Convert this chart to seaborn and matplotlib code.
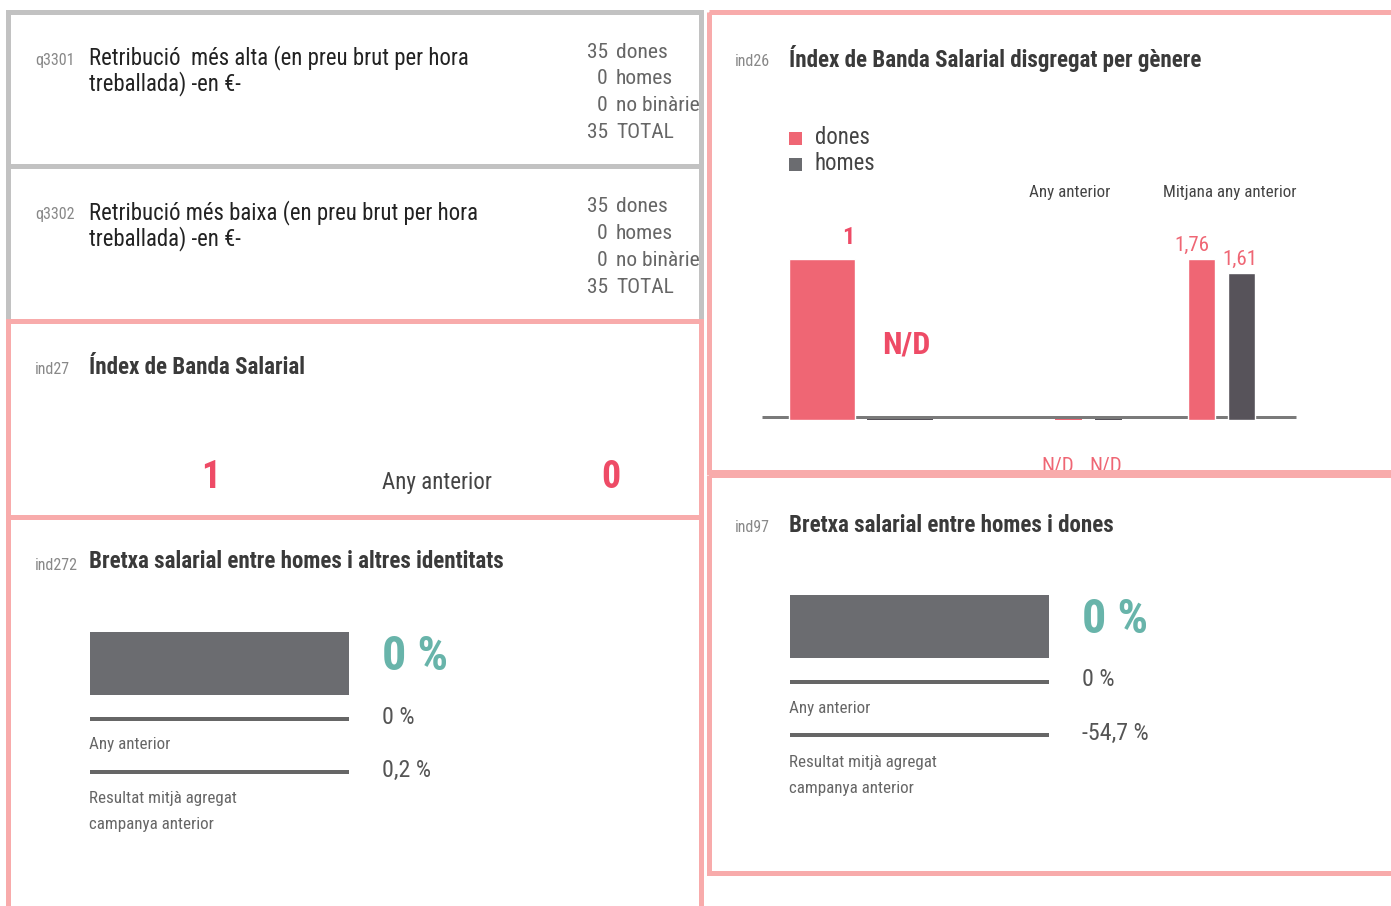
import numpy as np
import pandas as pd
import seaborn as sns
import matplotlib
matplotlib.use('Agg')
from matplotlib import pyplot as plt
from matplotlib import font_manager
from matplotlib.patches import Rectangle

# ---------------- data ----------------
q_codes = ['q3301', 'q3302']
q_titles = [['Retribució  més alta (en preu brut per hora', 'treballada) -en €-'],
            ['Retribució més baixa (en preu brut per hora', 'treballada) -en €-']]
q_labels = ['dones', 'homes', 'no binàries', 'TOTAL']
q_counts = [[35, 0, 0, 35], [35, 0, 0, 35]]

ind27_value = 1
ind27_prev = 0

ind26_groups = ['Actual', 'Any anterior', 'Mitjana any anterior']
ind26_dones = [1, np.nan, 1.76]
ind26_homes = [np.nan, np.nan, 1.61]

gap_codes = ['ind272', 'ind97']
gap_titles = ['Bretxa salarial entre homes i altres identitats', 'Bretxa salarial entre homes i dones']
gap_value = [0, 0]
gap_prev = [0, 0]
gap_avg = [0.2, -54.7]

# ---------------- style ----------------
W, H = 1391, 906
RED = '#ef6674'
RED_TXT = '#ee4b66'
DARK = '#57535a'
BAR_GRAY = '#6b6c70'
TEAL = '#68b4aa'
PINK = '#f8abab'
GRAY_BORDER = '#c2c2c2'

sns.set_theme(style='white')
available = {f.name for f in font_manager.fontManager.ttflist}
family = 'DejaVu Sans'
for cand in ['Roboto Condensed', 'Liberation Sans Narrow', 'DejaVu Sans Condensed', 'Roboto']:
    if cand in available:
        family = cand
        break
plt.rcParams['font.family'] = [family, 'DejaVu Sans']


def px(v):
    return v * 0.72


def fmt(v):
    return ('%g' % v).replace('.', ',')


fig = plt.figure(figsize=(W / 100, H / 100), dpi=100)
ax = fig.add_axes([0, 0, 1, 1])
ax.set_xlim(0, W)
ax.set_ylim(H, 0)
ax.axis('off')


def panel(x0, y0, x1, y1, color, lw=5):
    ax.add_patch(Rectangle((x0, y0), x1 - x0, y1 - y0, fill=False, edgecolor=color,
                           lw=px(lw), zorder=5, clip_on=False))


def txt(x, y, s, size, color='#333333', weight='normal', ha='left', va='center', **kw):
    return ax.text(x, y, s, fontsize=px(size), color=color, fontweight=weight, ha=ha, va=va, **kw)


# panels
panel(7.5, 11.5, 700.5, 165.5, GRAY_BORDER)
panel(7.5, 165.5, 700.5, 320.5, GRAY_BORDER)
panel(7.5, 320.5, 700.5, 516.5, PINK)
panel(7.5, 516.5, 700.5, 930, PINK)
panel(708.5, 11.5, 1420, 471.5, PINK)
panel(708.5, 475, 1420, 872.5, PINK)

# q panels
clip = Rectangle((0, 0), 699, H, transform=ax.transData)
for i, (code, title, counts) in enumerate(zip(q_codes, q_titles, q_counts)):
    y = 155 * i
    txt(35, 60 + y, code, 16, '#888888')
    txt(89, 58 + y, title[0], 22.8, '#222222')
    txt(89, 84 + y, title[1], 22.8, '#222222')
    for j, (n, lab) in enumerate(zip(counts, q_labels)):
        txt(608, 52 + y + 26.7 * j, str(n), 21.5, '#666666', ha='right')
        t2 = txt(616, 52 + y + 26.7 * j, lab, 21.5, '#666666', clip_on=True)
        t2.set_clip_path(clip)

# ind27
txt(35, 370, 'ind27', 16, '#888888')
txt(89, 367, 'Índex de Banda Salarial', 23, '#3a3a3a', 'bold')
txt(211, 477, fmt(ind27_value), 38, RED_TXT, 'bold', ha='center')
txt(382, 482, 'Any anterior', 23, '#444444')
txt(611, 477, fmt(ind27_prev), 38, RED_TXT, 'bold', ha='center')

# gap panels
for i, (code, title, v, pv, av) in enumerate(zip(gap_codes, gap_titles, gap_value, gap_prev, gap_avg)):
    x0 = 89 if i == 0 else 789
    cx = 35 if i == 0 else 735
    y = 0 if i == 0 else -37
    txt(cx, 565 + y, code, 16, '#888888')
    txt(x0, 562 + y, title, 23, '#3a3a3a', 'bold')
    ax.add_patch(Rectangle((x0 + 1, 632 + y), 259, 63, color=BAR_GRAY, lw=0))
    txt(382 + (x0 - 89), 657 + y, fmt(v) + ' %', 48, TEAL, 'bold')
    ax.plot([x0 + 1, x0 + 260], [719 + y, 719 + y], color='#666666', lw=px(4), solid_capstyle='butt')
    txt(382 + (x0 - 89), 717 + y, fmt(pv) + ' %', 24, '#555555')
    txt(x0, 745 + y, 'Any anterior', 17, '#666666')
    ax.plot([x0 + 1, x0 + 260], [772 + y, 772 + y], color='#666666', lw=px(4), solid_capstyle='butt')
    txt(382 + (x0 - 89), 770 + y, fmt(av) + ' %', 24, '#555555')
    txt(x0, 799 + y, 'Resultat mitjà agregat', 17, '#666666')
    txt(x0, 825 + y, 'campanya anterior', 17, '#666666')

# ind26
txt(735, 61, 'ind26', 16, '#888888')
txt(789, 58, 'Índex de Banda Salarial disgregat per gènere', 23, '#3a3a3a', 'bold')
ax.add_patch(Rectangle((789, 132), 13, 13, color=RED, lw=0))
ax.add_patch(Rectangle((789, 158), 13, 13, color=BAR_GRAY, lw=0))
txt(815, 138, 'dones', 22.7, '#444444')
txt(815, 164, 'homes', 22.7, '#444444')
txt(1070, 193, ind26_groups[1], 17, '#444444', ha='center')
txt(1230, 193, ind26_groups[2], 17, '#444444', ha='center')
ax.plot([762, 1296], [417, 417], color='#7a7a7a', lw=px(3), solid_capstyle='butt')

# bar axes per group: (centre of dones bar, spacing, bar width in px)
group_geom = [(822, 78, 66), (1068.5, 39.5, 27), (1201.5, 39.5, 27)]
for g, (c, sp, bw) in enumerate(group_geom):
    d, h = ind26_dones[g], ind26_homes[g]
    df = pd.DataFrame({'genere': ['dones', 'homes'], 'valor': [d, h]})
    top = np.nanmax(df['valor']) if df['valor'].notna().any() else 1
    left = c - sp / 2
    bax = fig.add_axes([left / W, 1 - 420 / H, 2 * sp / W, (420 - 259) / H])
    sns.barplot(data=df.fillna(0), x='genere', y='valor', hue='genere',
                palette=[RED, DARK], width=bw / sp, legend=False, ax=bax, saturation=1)
    for p in bax.patches:
        if p.get_height() == 0:
            p.set_edgecolor(p.get_facecolor())
            p.set_linewidth(px(2))
    bax.set_xlim(-0.5, 1.5)
    bax.set_ylim(0, top)
    bax.set_facecolor('none')
    bax.axis('off')

# bar labels
txt(848, 237, fmt(ind26_dones[0]), 24, RED_TXT, 'bold', ha='center')
txt(906, 344, 'N/D', 32, RED_TXT, 'bold', ha='center')
txt(1192, 245, fmt(ind26_dones[2]), 21, RED, ha='center')
txt(1240, 259, fmt(ind26_homes[2]), 21, RED, ha='center')
txt(1058, 457, 'N/D', 21, RED, ha='center', va='top', zorder=1)
txt(1106, 457, 'N/D', 21, RED, ha='center', va='top', zorder=1)

fig.savefig('out.png', dpi=100)
